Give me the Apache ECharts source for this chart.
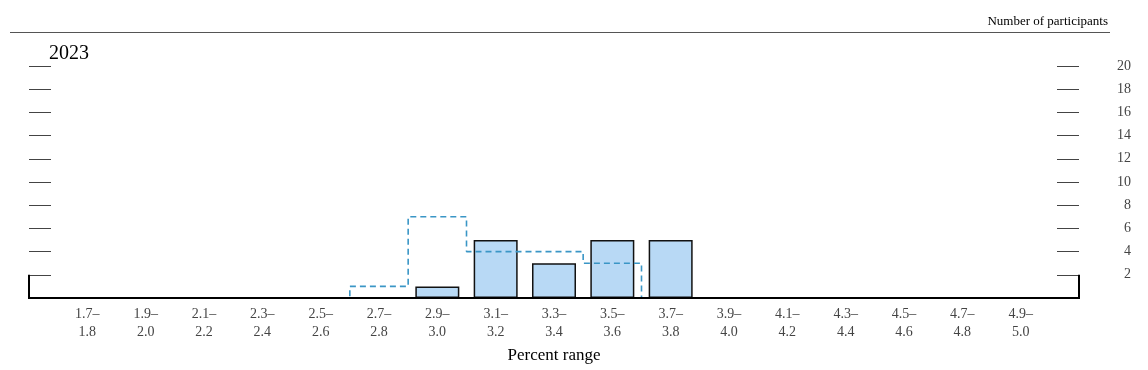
<!DOCTYPE html>
<html>
<head>
<meta charset="utf-8">
<script src="https://cdn.jsdelivr.net/npm/echarts@6/dist/echarts.min.js"></script>
<style>
html,body{margin:0;padding:0;background:#fff;}
#chart{width:1148px;height:370px;}
</style>
</head>
<body>
<div id="chart"></div>
<script>
// Data
const categories = ['1.7–\n1.8','1.9–\n2.0','2.1–\n2.2','2.3–\n2.4','2.5–\n2.6','2.7–\n2.8','2.9–\n3.0','3.1–\n3.2','3.3–\n3.4','3.5–\n3.6','3.7–\n3.8','3.9–\n4.0','4.1–\n4.2','4.3–\n4.4','4.5–\n4.6','4.7–\n4.8','4.9–\n5.0'];
const barValues   = [null,null,null,null,null,null,1,5,3,5,5,null,null,null,null,null,null];
const priorValues = [null,null,null,null,0,1,7,4,4,3,0,null,null,null,null,null,null];
const yTicks = [0,2,4,6,8,10,12,14,16,18,20];
const title = '2023';
const yTitle = 'Number of participants';
const xTitle = 'Percent range';

// pad with an empty slot at each end
const xCats = [''].concat(categories, ['']);
const pad = a => [null].concat(a, [null]);

const FONT = '"Liberation Serif", "DejaVu Serif", serif';
const chart = echarts.init(document.getElementById('chart'), null, {renderer:'canvas'});
const gridL = 29, gridR = 69, gridT = 66, gridB = 72;

const option = {
  animation: false,
  backgroundColor: '#fff',
  grid: {left: gridL, right: gridR, top: gridT, bottom: gridB, containLabel: false, outerBoundsMode: 'none'},
  xAxis: {
    type: 'category', data: xCats, boundaryGap: false, z: 10,
    axisLine: {show: true, lineStyle: {color: '#000', width: 2}},
    axisTick: {show: false},
    axisLabel: {interval: 0, color: '#444', fontFamily: FONT, fontSize: 14, lineHeight: 18, margin: 7},
    name: xTitle, nameLocation: 'middle', nameGap: 49,
    nameTextStyle: {color: '#000', fontFamily: FONT, fontSize: 17},
    splitLine: {show: false}
  },
  yAxis: [{
    type: 'value', position: 'right', min: yTicks[0], max: yTicks[yTicks.length-1], interval: 2,
    axisLine: {show: false},
    axisTick: {show: true, inside: true, length: 22, lineStyle: {color: '#444', width: 1}},
    axisLabel: {color: '#444', fontFamily: FONT, fontSize: 14, align: 'right', margin: 52,
      padding: [6, 0, 0, 0],
      formatter: v => v === 0 ? '' : String(v)},
    splitLine: {show: false}
  }, {
    type: 'value', position: 'left', min: yTicks[0], max: yTicks[yTicks.length-1], interval: 2,
    axisLine: {show: false},
    axisTick: {show: true, inside: true, length: 22, lineStyle: {color: '#444', width: 1}},
    axisLabel: {show: false},
    splitLine: {show: false}
  }],
  series: [{
    type: 'bar', data: pad(barValues), barWidth: 44, yAxisIndex: 0,
    itemStyle: {color: '#b8d9f5', borderColor: '#111', borderWidth: 1.5}
  }, {
    type: 'line', data: pad(priorValues), step: 'middle', yAxisIndex: 0,
    symbol: 'none', connectNulls: false,
    lineStyle: {color: '#3a96c6', width: 1.6, type: [6, 4]}
  }]
};
chart.setOption(option);

// decorative frame pieces derived from the axes
const p0 = chart.convertToPixel({xAxisIndex: 0, yAxisIndex: 0}, [0, 0]);
const pEnd = chart.convertToPixel({xAxisIndex: 0, yAxisIndex: 0}, [xCats.length - 1, 2]);
const y2 = pEnd[1];
const yBase = p0[1];
const xL = p0[0], xR = pEnd[0];
chart.setOption({
  graphic: [
    {type: 'line', z: 20, shape: {x1: xL, y1: y2, x2: xL, y2: yBase + 1}, style: {stroke: '#000', lineWidth: 2}},
    {type: 'line', z: 20, shape: {x1: xR, y1: y2, x2: xR, y2: yBase + 1}, style: {stroke: '#000', lineWidth: 2}},
    {type: 'line', z: 20, shape: {x1: 10, y1: 32.5, x2: 1110, y2: 32.5}, style: {stroke: '#555', lineWidth: 1}},
    {type: 'text', z: 20, style: {x: 1108, y: 28, text: yTitle, textAlign: 'right', textVerticalAlign: 'bottom',
      font: '13px ' + FONT, fill: '#000'}},
    {type: 'text', z: 20, style: {x: 49, y: 54, text: title, textAlign: 'left', textVerticalAlign: 'middle',
      font: '20px ' + FONT, fill: '#000'}}
  ]
});
</script>
</body>
</html>
